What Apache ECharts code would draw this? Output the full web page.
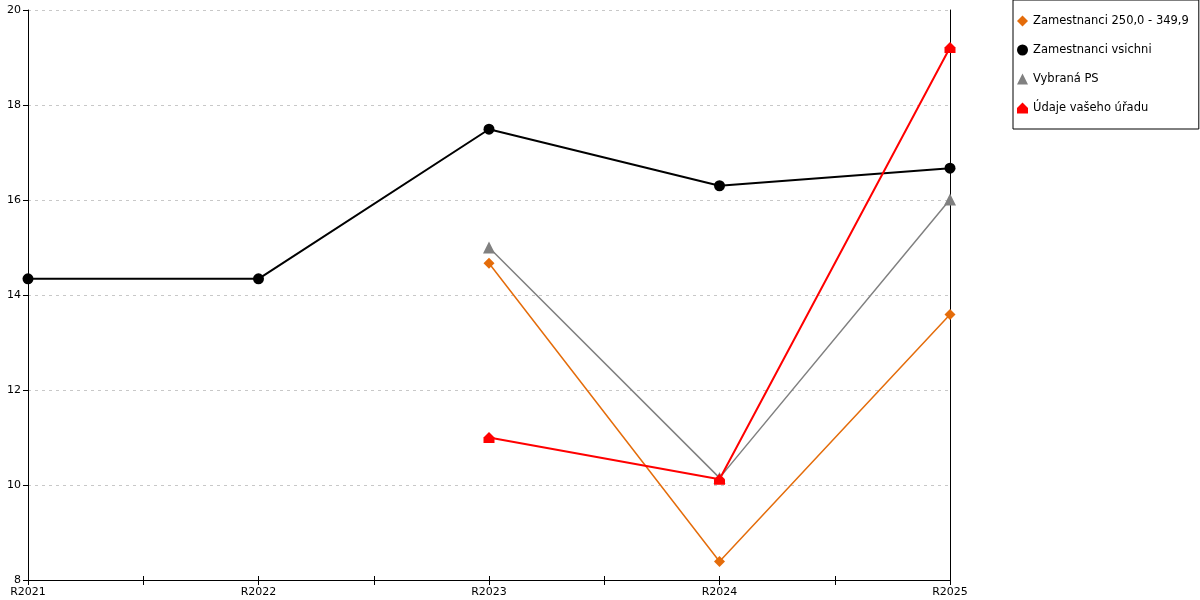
<!DOCTYPE html>
<html lang="cs">
<head>
    <meta charset="UTF-8">
    <title>Zamestnanci</title>
    <script src="https://cdn.jsdelivr.net/npm/echarts@6/dist/echarts.min.js"></script>
</head>
<style>
    html,body{
        padding: 0;
        margin: 0;
        background: #fff;
    }
</style>
<body>
<div id="chart" style="width: 1200px;height:600px;"></div>
</body>
<script type="text/javascript">
    // data
    var years = ['R2021', 'R2022', 'R2023', 'R2024', 'R2025'];
    var seriesNames = ['Zamestnanci 250,0 - 349,9', 'Zamestnanci vsichni', 'Vybraná PS', 'Údaje vašeho úřadu'];
    var zam250 = [null, null, 14.67, 8.39, 13.59];
    var zamAll = [14.34, 14.34, 17.49, 16.30, 16.67];
    var vybranaPS = [null, null, 15.00, 10.15, 16.01];
    var udaje = [null, null, 11.00, 10.12, 19.21];

    var house = 'path://M0,5 L5,0 L10,5 L10,10 L0,10 Z';
    var font = 'DejaVu Sans';

    // x as value axis so that half-step ticks can be drawn between years
    function toPairs(arr) {
        return arr.map(function (v, i) { return [i, v]; });
    }

    function lineSeries(name, data, color, symbol, size, width) {
        return {
            name: name,
            type: 'line',
            data: toPairs(data),
            symbol: symbol,
            symbolSize: size,
            showAllSymbol: true,
            clip: false,
            connectNulls: false,
            animation: false,
            itemStyle: {color: color},
            lineStyle: {color: color, width: width}
        };
    }

    var myChart = echarts.init(document.getElementById('chart'));
    myChart.setOption({
        backgroundColor: '#fff',
        textStyle: {fontFamily: font},
        grid: {left: 28, right: 250, top: 10, bottom: 20},
        legend: {
            orient: 'vertical',
            left: 1013,
            top: 0,
            padding: [15, 10, 15, 4],
            itemGap: 17,
            itemWidth: 11,
            itemHeight: 11,
            borderColor: '#000',
            borderWidth: 1,
            textStyle: {fontFamily: font, fontSize: 11.5, color: '#000'},
            data: [
                {name: seriesNames[0], icon: 'diamond'},
                {name: seriesNames[1], icon: 'circle'},
                {name: seriesNames[2], icon: 'triangle'},
                {name: seriesNames[3], icon: house}
            ]
        },
        xAxis: [{
            type: 'value',
            min: 0,
            max: 4,
            interval: 0.5,
            position: 'bottom',
            axisLine: {onZero: false, lineStyle: {color: '#000', width: 1}},
            axisTick: {length: 5, lineStyle: {color: '#000'}},
            axisLabel: {
                color: '#000', fontSize: 11, margin: 7, fontFamily: font,
                formatter: function (v) {
                    return Number.isInteger(v) ? years[v] : '';
                }
            },
            splitLine: {show: false}
        }, {
            type: 'value',
            min: 0,
            max: 4,
            interval: 0.5,
            position: 'bottom',
            axisLine: {show: false, onZero: false},
            axisTick: {inside: true, length: 4, lineStyle: {color: '#000'}},
            axisLabel: {show: false},
            splitLine: {show: false}
        }],
        yAxis: [{
            type: 'value',
            min: 8,
            max: 20,
            interval: 2,
            axisLine: {show: true, onZero: false, lineStyle: {color: '#000', width: 1}},
            axisTick: {show: true, length: 5, lineStyle: {color: '#000'}},
            axisLabel: {color: '#000', fontSize: 11, margin: 7, fontFamily: font},
            splitLine: {show: true, lineStyle: {color: '#c8c8c8', type: [3, 4], width: 1}}
        }, {
            type: 'value',
            min: 8,
            max: 20,
            interval: 2,
            position: 'right',
            axisLine: {show: true, onZero: false, lineStyle: {color: '#000', width: 1}},
            axisTick: {show: false},
            axisLabel: {show: false},
            splitLine: {show: false}
        }],
        series: [
            lineSeries(seriesNames[0], zam250, '#E46C0A', 'diamond', 11, 1.5),
            lineSeries(seriesNames[1], zamAll, '#000000', 'circle', 11, 2),
            lineSeries(seriesNames[2], vybranaPS, '#808080', 'triangle', 12, 1.5),
            lineSeries(seriesNames[3], udaje, '#FF0000', house, 11, 2)
        ]
    });
</script>
</html>
